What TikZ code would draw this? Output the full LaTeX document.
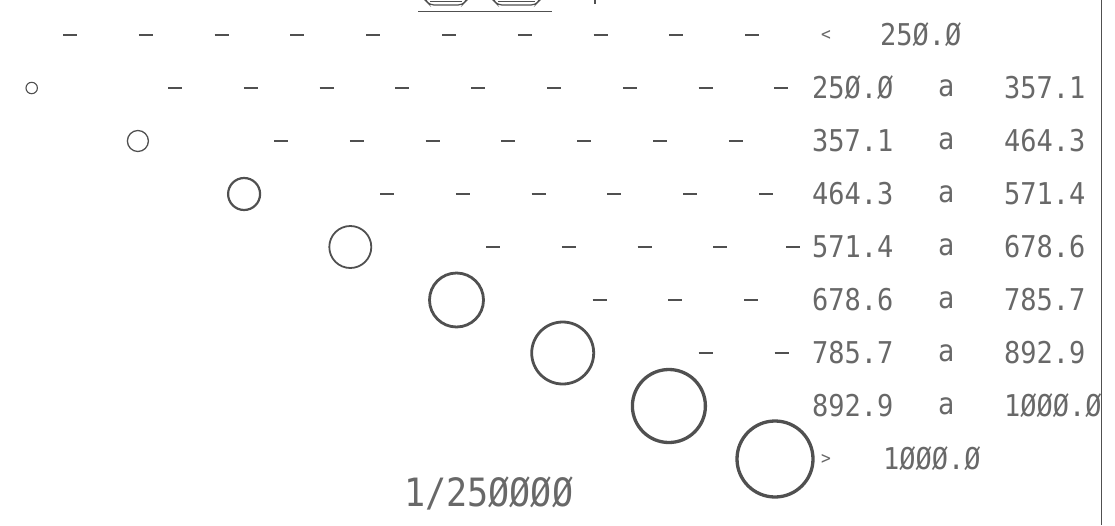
\documentclass[tikz,border=0pt]{standalone}
\usepackage{fontspec}
\newfontfamily\plotfont{DejaVu Sans Mono}[FakeStretch=0.9]
\definecolor{ink}{HTML}{505050}
\definecolor{txt}{HTML}{686868}
\begin{document}
\begin{tikzpicture}[x=1pt,y=-1pt,
  lbl/.style={font=\plotfont\fontsize{30}{32}\selectfont, text=txt, inner sep=0pt, anchor=west},
  small/.style={font=\plotfont\fontsize{18}{20}\selectfont, text=txt, inner sep=0pt, anchor=west},
  title/.style={font=\plotfont\fontsize{39}{41}\selectfont, text=txt, inner sep=0pt, anchor=west},
  sym/.style={circle, draw=ink, inner sep=0pt},
  dsh/.style={draw=ink, line width=1.2pt}]
\useasboundingbox (0,0) rectangle (1115,525);
\clip (0,0) rectangle (1115,525);
% partial elements cut off at the top
\draw[ink, line width=1.2pt, rounded corners=4pt] (425,-20) -- (425,0) -- (430,5) -- (462,5) -- (467,0) -- (467,-20);
\draw[ink, line width=1pt] (430,1) -- (462,1);
\draw[ink, line width=1.2pt, rounded corners=4pt] (493,-20) -- (493,0) -- (498,5) -- (535,5) -- (540,0) -- (540,-20);
\draw[ink, line width=1pt] (498,1) -- (535,1);
\draw[ink, line width=0.8pt] (418,11) -- (552,11);
\draw[ink, line width=2pt] (595,-5) -- (595,4);
% frame line
\draw[ink, line width=0.9pt] (1101,0) -- (1101,525);
% row 0
\foreach \x in {70,145.8,221.6,297.4,373.2,449,524.8,600.6,676.4,752.2}
  \draw[dsh] (\x-7,35) -- (\x+7,35);
\node[small] (lt) at (821,35) {<};
\node[lbl] (v0) at (880,35) {25Ø.Ø};
% symbols
\node[sym, minimum size=11.4pt, line width=1.1pt] (c1) at (31.7,88) {};
\node[sym, minimum size=21pt, line width=1.3pt] (c2) at (137.9,141) {};
\node[sym, minimum size=32pt, line width=2.2pt] (c3) at (244.1,194) {};
\node[sym, minimum size=42pt, line width=1.8pt] (c4) at (350.3,247) {};
\node[sym, minimum size=54pt, line width=2.8pt] (c5) at (456.5,300) {};
\node[sym, minimum size=62pt, line width=2.8pt] (c6) at (562.7,353) {};
\node[sym, minimum size=73pt, line width=3.3pt] (c7) at (668.9,406) {};
\node[sym, minimum size=76pt, line width=3.3pt] (c8) at (775,459) {};
% dashes
\foreach \x in {175,250.8,326.6,402.4,478.2,554,629.8,705.6,781.4}
  \draw[dsh] (\x-7,88) -- (\x+7,88);
\foreach \x in {281,356.8,432.6,508.4,584.2,660,735.8}
  \draw[dsh] (\x-7,141) -- (\x+7,141);
\foreach \x in {387,462.8,538.6,614.4,690.2,766}
  \draw[dsh] (\x-7,194) -- (\x+7,194);
\foreach \x in {493,568.8,644.6,720.4,793}
  \draw[dsh] (\x-7,247) -- (\x+7,247);
\foreach \x in {599.5,675.3,751.1}
  \draw[dsh] (\x-7,300) -- (\x+7,300);
\foreach \x in {705.7,781.5}
  \draw[dsh] (\x-7,353) -- (\x+7,353);
% class labels
\node[lbl] (l1) at (812,88) {25Ø.Ø};  \node[lbl] (a1) at (938,88) {a}; \node[lbl] (r1) at (1004,88) {357.1};
\node[lbl] (l2) at (812,141) {357.1}; \node[lbl] (a2) at (938,141) {a}; \node[lbl] (r2) at (1004,141) {464.3};
\node[lbl] (l3) at (812,194) {464.3}; \node[lbl] (a3) at (938,194) {a}; \node[lbl] (r3) at (1004,194) {571.4};
\node[lbl] (l4) at (812,247) {571.4}; \node[lbl] (a4) at (938,247) {a}; \node[lbl] (r4) at (1004,247) {678.6};
\node[lbl] (l5) at (812,300) {678.6}; \node[lbl] (a5) at (938,300) {a}; \node[lbl] (r5) at (1004,300) {785.7};
\node[lbl] (l6) at (812,353) {785.7}; \node[lbl] (a6) at (938,353) {a}; \node[lbl] (r6) at (1004,353) {892.9};
\node[lbl] (l7) at (812,406) {892.9}; \node[lbl] (a7) at (938,406) {a}; \node[lbl] (r7) at (1004,406) {1ØØØ.Ø};
\node[small] (gt) at (821,459) {>};
\node[lbl] (v8) at (883,459) {1ØØØ.Ø};
% scale
\node[title] (sc) at (404,493) {1/25ØØØØ};
\end{tikzpicture}
\end{document}
